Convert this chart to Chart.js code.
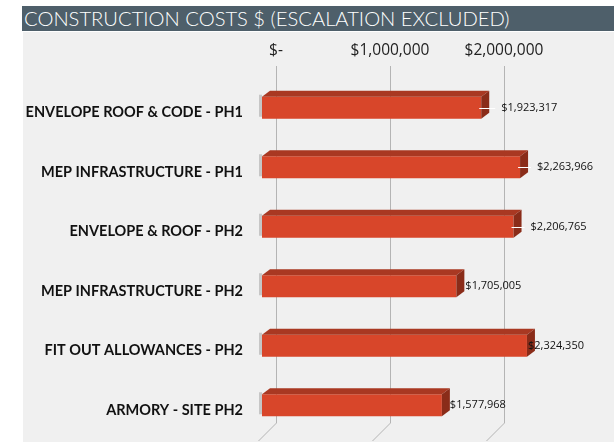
<!DOCTYPE html>
<html>
<head>
<meta charset="utf-8">
<script src="https://cdn.jsdelivr.net/npm/chart.js@4.4.1/dist/chart.umd.min.js"></script>
<style>
  html, body { margin: 0; padding: 0; background: #fff; }
  #wrap { position: relative; width: 614px; height: 442px; overflow: hidden; }
  #head {
    position: absolute; left: 22px; top: 6px; width: 592px; height: 25px;
    background: #4e5f6a; color: #fff;
    font-family: Lato, sans-serif; font-weight: 300; font-size: 20.2px;
    line-height: 25px; padding-left: 2px; white-space: nowrap;
  }
  #panel { position: absolute; left: 23px; top: 32px; width: 591px; height: 410px; background: #f0f0f0; }
  #chart { position: absolute; left: 0; top: 0; }
</style>
</head>
<body>
<div id="wrap">
  <div id="head">CONSTRUCTION COSTS $ (ESCALATION EXCLUDED)</div>
  <div id="panel"></div>
  <canvas id="chart" width="614" height="442"></canvas>
</div>
<script>
const categories = [
  "ENVELOPE ROOF & CODE - PH1",
  "MEP INFRASTRUCTURE - PH1",
  "ENVELOPE & ROOF - PH2",
  "MEP INFRASTRUCTURE - PH2",
  "FIT OUT ALLOWANCES - PH2",
  "ARMORY - SITE PH2",
]
const costs = [1923317, 2263966, 2206765, 1705005, 2324350, 1577968]
const tickValues = [0, 1000000, 2000000]
const tickLabels = ["$-", "$1,000,000", "$2,000,000"]

// label spacing past the end of each bar
const labelNudge = [20, 17, 17, 9, 1, 8]

const DEPTH_X = 14   // back wall offset
const BAR_DX = 8     // bar top/side depth
const BAR_DY = 6

function money(v) {
  return "$" + v.toLocaleString("en-US")
}

const wallPlugin = {
  id: "wall",
  beforeDatasetsDraw(chart) {
    const { ctx, chartArea } = chart
    const x = chart.scales.x
    const top = chartArea.top - 12
    const bottom = chartArea.bottom - 12
    ctx.save()
    ctx.strokeStyle = "#b4b4b4"
    ctx.lineWidth = 1
    tickValues.forEach((v) => {
      const px = Math.round(x.getPixelForValue(v) + DEPTH_X) + 0.5
      ctx.beginPath()
      ctx.moveTo(px, top)
      ctx.lineTo(px, bottom)
      ctx.lineTo(px - 18, bottom + 18)
      ctx.stroke()
    })
    ctx.restore()
  },
}

const boxPlugin = {
  id: "box",
  afterDatasetsDraw(chart) {
    const { ctx } = chart
    const meta = chart.getDatasetMeta(0)
    ctx.save()
    meta.data.forEach((bar, i) => {
      const top = bar.y - bar.height / 2
      const bottom = bar.y + bar.height / 2
      const left = bar.base
      const right = bar.x

      // top face
      ctx.fillStyle = "#a93822"
      ctx.beginPath()
      ctx.moveTo(left, top)
      ctx.lineTo(right, top)
      ctx.lineTo(right + BAR_DX, top - BAR_DY)
      ctx.lineTo(left + BAR_DX, top - BAR_DY)
      ctx.closePath()
      ctx.fill()

      // right side
      ctx.fillStyle = "#8a2c19"
      ctx.beginPath()
      ctx.moveTo(right, top)
      ctx.lineTo(right + BAR_DX, top - BAR_DY)
      ctx.lineTo(right + BAR_DX, bottom - BAR_DY)
      ctx.lineTo(right, bottom)
      ctx.closePath()
      ctx.fill()

      // left end shadow
      ctx.fillStyle = "rgba(120,120,120,0.35)"
      ctx.fillRect(left - 3, top - 2, 3, bar.height)

      // value label with leader
      const lx = right + labelNudge[i]
      if (labelNudge[i] > 12) {
        ctx.strokeStyle = "#ffffff"
        ctx.lineWidth = 1
        ctx.beginPath()
        ctx.moveTo(right - 2, Math.round(bar.y) + 0.5)
        ctx.lineTo(lx - 6, Math.round(bar.y) + 0.5)
        ctx.stroke()
      }
      ctx.fillStyle = "#111"
      ctx.font = "11px 'Open Sans', sans-serif"
      ctx.textAlign = "left"
      ctx.textBaseline = "middle"
      ctx.fillText(money(costs[i]), lx, bar.y)
    })
    ctx.restore()
  },
}

new Chart(document.getElementById("chart").getContext("2d"), {
  type: "bar",
  data: {
    labels: categories,
    datasets: [
      {
        data: costs,
        backgroundColor: "#d8462a",
        borderWidth: 0,
        barPercentage: 0.37,
        categoryPercentage: 1,
      },
    ],
  },
  options: {
    indexAxis: "y",
    responsive: false,
    animation: false,
    layout: { padding: { top: 0, right: 0, bottom: 7, left: 0 } },
    plugins: {
      legend: { display: false },
      tooltip: { enabled: false },
    },
    scales: {
      x: {
        position: "top",
        min: 0,
        max: 3088000,
        afterFit(scale) {
          scale.height = 78
        },
        afterBuildTicks(scale) {
          scale.ticks = tickValues.map((v) => ({ value: v }))
        },
        grid: { display: false, drawTicks: false },
        border: { display: false },
        ticks: {
          padding: 18,
          labelOffset: DEPTH_X,
          maxRotation: 0,
          color: "#222",
          font: { family: "Open Sans", size: 15.5 },
          callback: (v, i) => tickLabels[i],
        },
      },
      y: {
        afterFit(scale) {
          scale.width = 262
          // labels sit beside the bars, no extra room needed above/below
          scale.paddingTop = 0
          scale.paddingBottom = 0
        },
        grid: { display: false, drawTicks: false },
        border: { display: false },
        ticks: {
          padding: 19,
          labelOffset: 5,
          color: "#111",
          font: { family: "Lato", size: 14.5, weight: "bold" },
        },
      },
    },
  },
  plugins: [wallPlugin, boxPlugin],
})
</script>
</body>
</html>
